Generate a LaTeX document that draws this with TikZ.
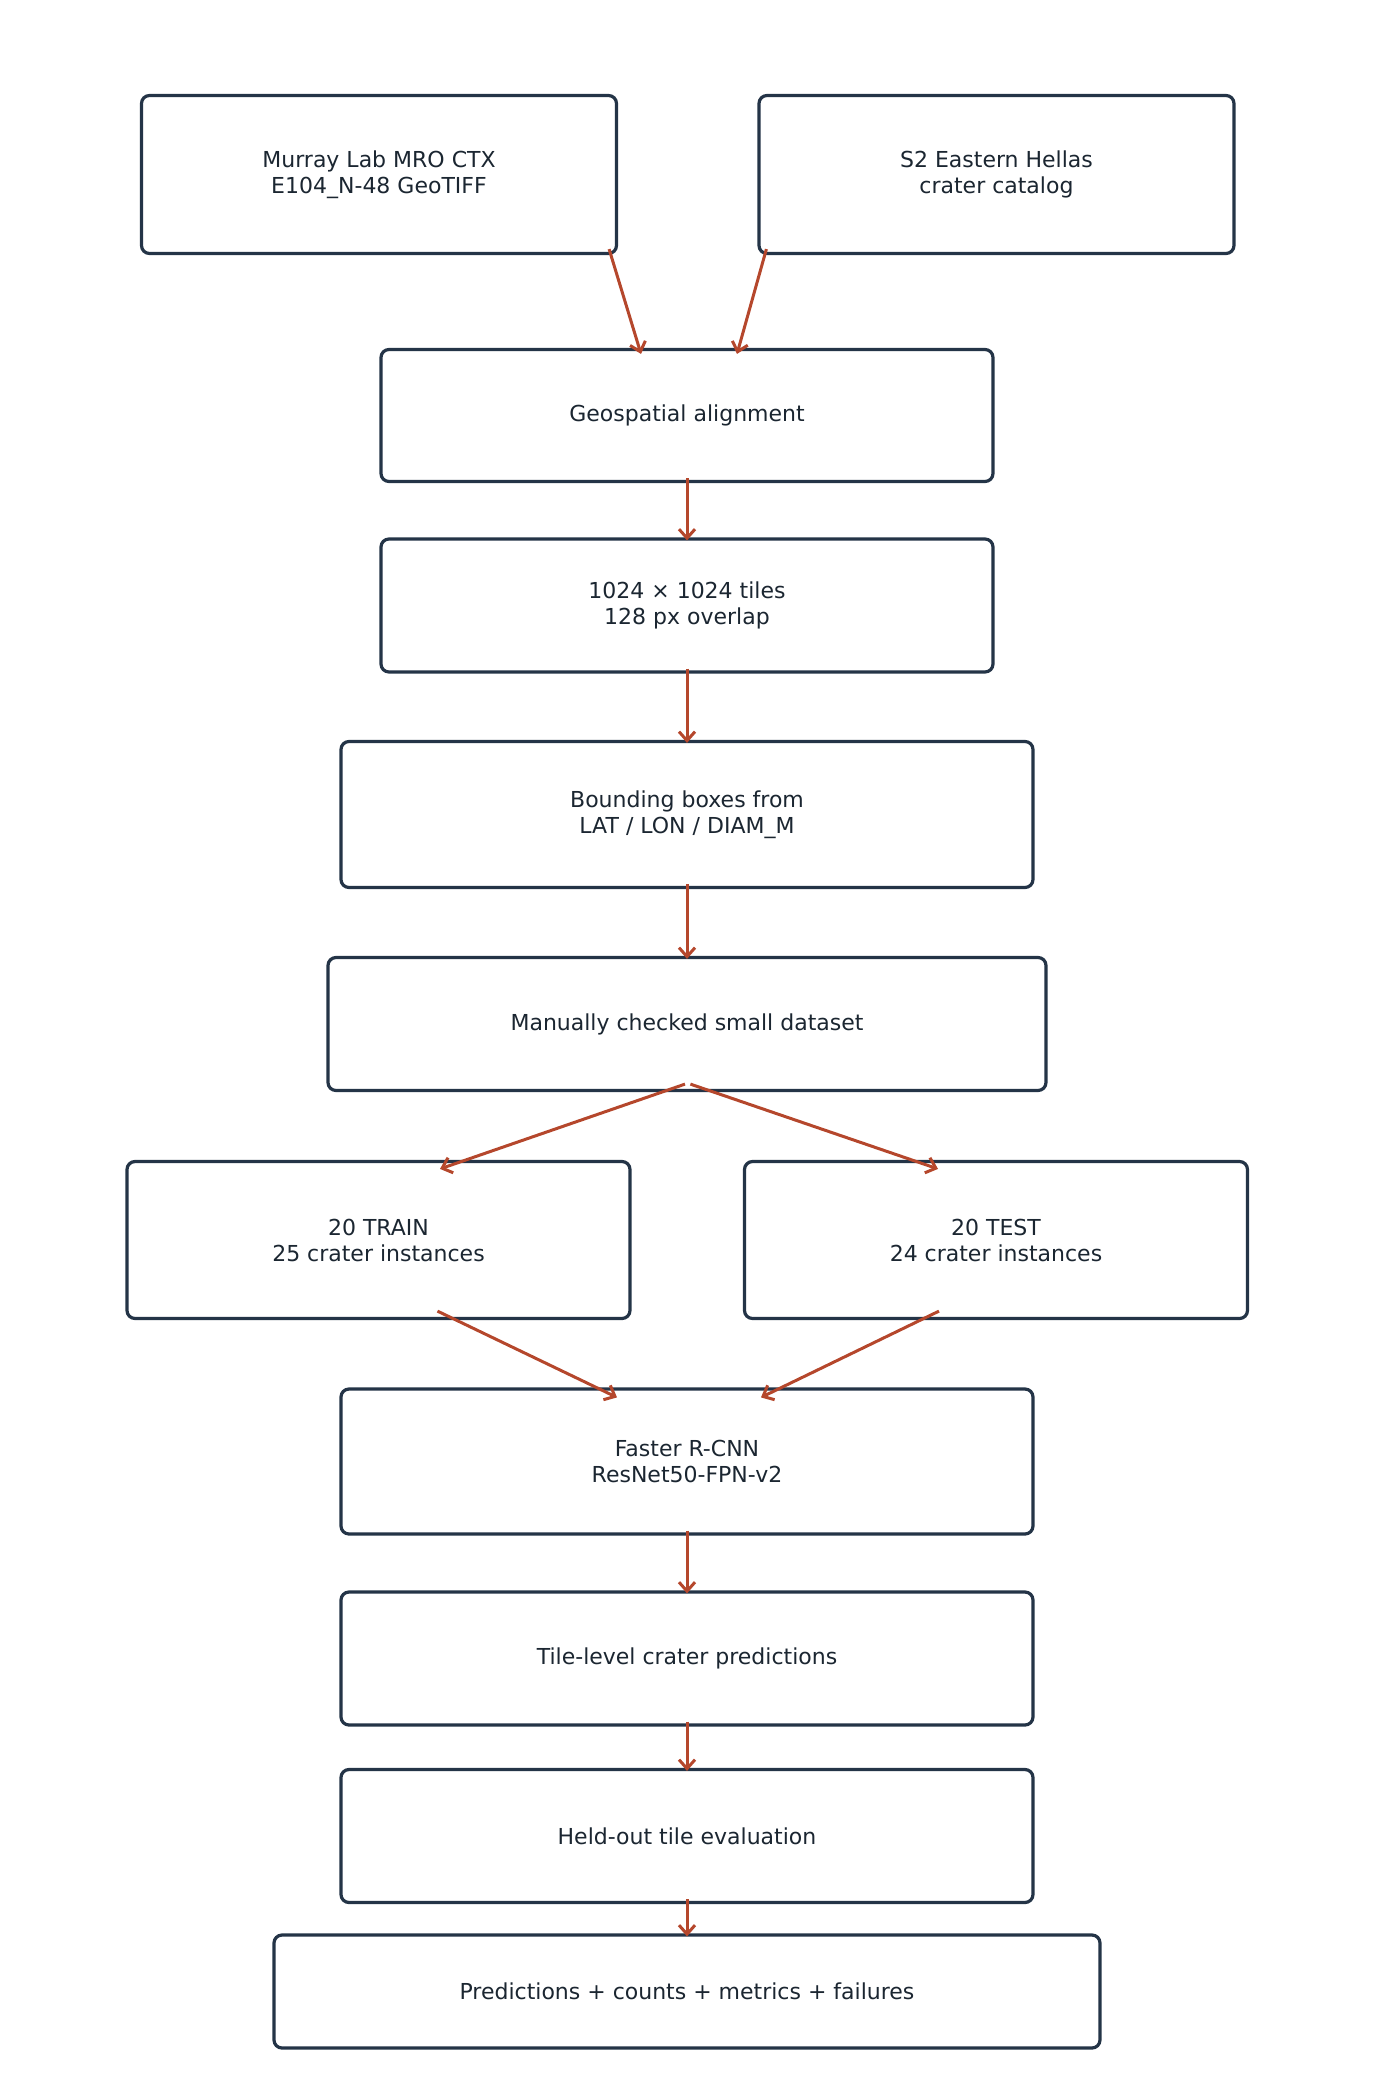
\documentclass[tikz,border=0pt]{standalone}
\usepackage{fontspec}
\setmainfont{DejaVu Sans}
\usetikzlibrary{arrows.meta}
\definecolor{boxline}{HTML}{243447}
\definecolor{flowred}{HTML}{B5472C}
\definecolor{ink}{HTML}{1B2631}
\tikzset{
  stage/.style = {% rounded box for one pipeline stage
    draw=boxline,
    line width=1.6pt,
    rounded corners=4pt,
    fill=white,
    align=center,
    text=ink,
    font=\fontsize{11}{13}\selectfont,
    minimum width=#1,
  },
  stage/.default = {346pt},
  flow/.style = {% orange connector with open head
    draw=flowred,
    line width=1.5pt,
    -{Straight Barb[length=4.5pt,width=8pt]},
  }
}

\begin{document}
\begin{tikzpicture}[x=0.5pt,y=-0.5pt]
  \useasboundingbox (0,0) rectangle (1374,2094);
  \node[stage=237.5pt, minimum height=79pt] (src) at (379,174.5) {Murray Lab MRO CTX\\E104\_N-48 GeoTIFF};
  \node[stage=237.5pt, minimum height=79pt] (cat) at (996.5,174.5) {S2 Eastern Hellas\\crater catalog};
  \node[stage=306pt, minimum height=66pt] (align) at (687,415.5) {Geospatial alignment};
  \node[stage=306pt, minimum height=66.5pt] (tiles) at (687,605.5) {1024 × 1024 tiles\\128 px overlap};
  \node[stage, minimum height=73pt] (bbox) at (687,814.5) {Bounding boxes from\\LAT / LON / DIAM\_M};
  \node[stage=359pt, minimum height=66.5pt] (check) at (687,1024) {Manually checked small dataset};
  \node[stage=251.5pt, minimum height=78.5pt] (train) at (378.5,1240) {20 TRAIN\\25 crater instances};
  \node[stage=251.5pt, minimum height=78.5pt] (test) at (996,1240) {20 TEST\\24 crater instances};
  \node[stage, minimum height=72.5pt] (frcnn) at (687,1461.5) {Faster R-CNN\\ResNet50-FPN-v2};
  \node[stage, minimum height=66.5pt] (pred) at (687,1658.5) {Tile-level crater predictions};
  \node[stage, minimum height=66.5pt] (evalt) at (687,1836) {Held-out tile evaluation};
  \node[stage=413pt, minimum height=56.5pt] (out) at (687,1991.5) {Predictions + counts + metrics + failures};

  % the two sources meet in the alignment step
  \draw[flow] ([xshift=-4.5pt,yshift=3pt]src.south east) -- ([xshift=-23pt,yshift=-3pt]align.north);
  \draw[flow] ([xshift=4.5pt,yshift=3pt]cat.south west) -- ([xshift=25pt,yshift=-3pt]align.north);
  \foreach \a/\b in {align/tiles, tiles/bbox, bbox/check, frcnn/pred, pred/evalt, evalt/out}
    \draw[flow] ([yshift=2.5pt]\a.south) -- ([yshift=-1.5pt]\b.north);
  % split into train and test, then both feed the detector
  \draw[flow] ([xshift=-1pt,yshift=4pt]check.south) -- ([xshift=30.75pt,yshift=-4.5pt]train.north);
  \draw[flow] ([xshift=1.7pt,yshift=4pt]check.south) -- ([xshift=-29pt,yshift=-4.5pt]test.north);
  \draw[flow] ([xshift=29.5pt,yshift=4.5pt]train.south) -- ([xshift=-35pt,yshift=-5pt]frcnn.north);
  \draw[flow] ([xshift=-28.5pt,yshift=4.5pt]test.south) -- ([xshift=37pt,yshift=-5pt]frcnn.north);
\end{tikzpicture}
\end{document}
